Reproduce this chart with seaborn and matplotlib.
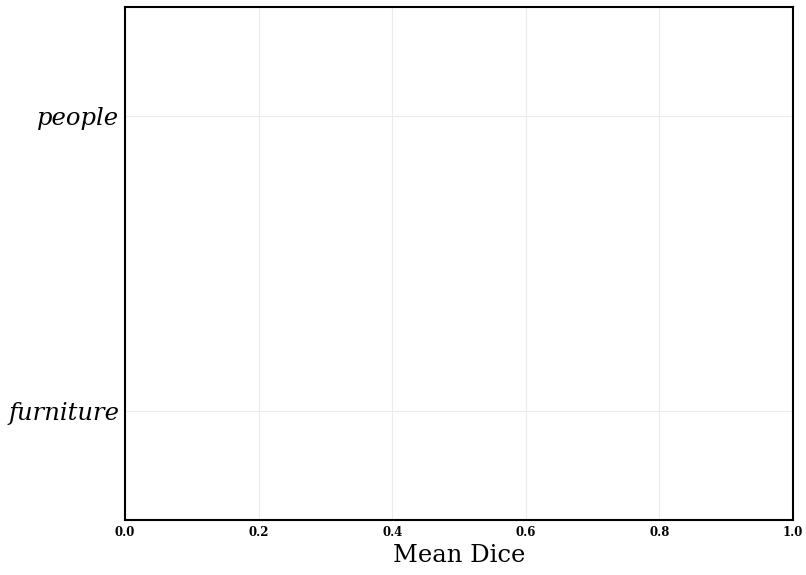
import matplotlib
matplotlib.use("Agg")
import matplotlib.pyplot as plt
import seaborn as sns
import pandas as pd

categories = ["people", "furniture"]
mean_dice = [0.0, 0.0]

df = pd.DataFrame({"category": categories, "Mean Dice": mean_dice})

sns.set_theme(style="whitegrid")
plt.rcParams["font.family"] = ["DejaVu Serif"]
plt.rcParams["text.color"] = "black"
plt.rcParams["xtick.color"] = "black"
plt.rcParams["ytick.color"] = "black"
plt.rcParams["axes.labelcolor"] = "black"

fig = plt.figure(figsize=(8.06, 5.75), dpi=100)
ax = fig.add_axes([125/806, 1 - 520/575, (793-125)/806, (520-7)/575])
sns.barplot(data=df, y="category", x="Mean Dice", ax=ax, color="#4c72b0", orient="h")
ax.set_xlim(0, 1)
ax.set_xticks([0, 0.2, 0.4, 0.6, 0.8, 1.0])
ax.set_xticklabels(["0.0", "0.2", "0.4", "0.6", "0.8", "1.0"], fontsize=8.5, fontweight="bold", color="black")
ax.set_yticks([0, 1])
ax.set_yticklabels(categories, fontsize=17.5, fontstyle="italic", color="black")
ax.set_ylim(1.37, -0.37)
ax.set_ylabel("")
ax.set_xlabel("Mean Dice", fontsize=17.5, color="black")
ax.grid(True, color="#ebebeb", linewidth=0.8)
for s in ax.spines.values():
    s.set_visible(True)
    s.set_color("black")
    s.set_linewidth(1.5)
ax.tick_params(axis="both", length=0, pad=4)
fig.savefig("out.png", dpi=100)
